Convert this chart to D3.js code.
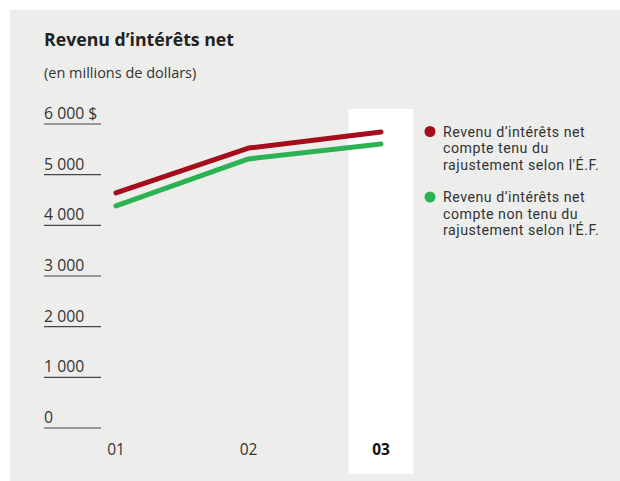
<!DOCTYPE html>
<html><head><meta charset="utf-8">
<script src="https://cdn.jsdelivr.net/npm/d3@7"></script>
<style>html,body{margin:0;padding:0;background:#fff;}svg{display:block;}</style>
</head><body>
<svg id="c" width="620" height="481"></svg>
<script>
const categories = ["01", "02", "03"];
const seriesAdjusted = [4640, 5525, 5840];
const seriesUnadjusted = [4385, 5310, 5605];
const yTicks = [0, 1000, 2000, 3000, 4000, 5000, 6000];
const yTickLabels = ["0", "1 000", "2 000", "3 000", "4 000", "5 000", "6 000 $"];
const legendLabels = [
  ["Revenu d\u2019intérêts net", "compte tenu du", "rajustement selon l'É.F."],
  ["Revenu d\u2019intérêts net", "compte non tenu du", "rajustement selon l'É.F."]
];
const colors = ["#a50d1c", "#2bb353"];
const font = "'Open Sans', 'Noto Sans', sans-serif";
const legendFont = "Roboto, 'Open Sans', sans-serif";

const svg = d3.select("#c");
svg.append("rect").attr("x",10).attr("y",10).attr("width",610).attr("height",471).attr("fill","#edeeec");

const x = d3.scalePoint().domain(categories).range([116, 381]);
const y = d3.scaleLinear().domain([0, 6000]).range([428, 124]);

// highlight column for last category
svg.append("rect").attr("x", x("03") - 32.5).attr("y", 109).attr("width", 65).attr("height", 365).attr("fill", "#fff");

svg.append("text").attr("x",44).attr("y",46).attr("font-family",font).attr("font-size",17.7).attr("font-weight","bold").attr("fill","#222").text("Revenu d\u2019intérêts net");
svg.append("text").attr("x",44).attr("y",78).attr("font-family",font).attr("font-size",14.5).attr("fill","#333").text("(en millions de dollars)");

// y ticks: lines with labels above
const g = svg.append("g");
yTicks.forEach((t,i) => {
  g.append("line").attr("x1",44).attr("x2",101).attr("y1",y(t)).attr("y2",y(t)).attr("stroke","#444").attr("stroke-width",1.2);
  g.append("text").attr("x",44).attr("y",y(t)-5).attr("font-family",font).attr("font-size",15.8).attr("fill","#333").text(yTickLabels[i]);
});

// x labels
categories.forEach((c,i) => {
  svg.append("text").attr("x",x(c)).attr("y",455).attr("text-anchor","middle").attr("font-family",font).attr("font-size",15.5)
    .attr("font-weight", i===categories.length-1 ? "bold" : "normal").attr("fill", i===categories.length-1 ? "#111" : "#333").text(c);
});

const line = d3.line().x((d,i)=>x(categories[i])).y(d=>y(d));
[seriesUnadjusted, seriesAdjusted].forEach((s,k) => {
  svg.append("path").attr("d", line(s)).attr("fill","none").attr("stroke", colors[1-k]).attr("stroke-width",5)
    .attr("stroke-linecap","round").attr("stroke-linejoin","round");
});

// legend
legendLabels.forEach((lines, k) => {
  const top = 136.5 + k*65.5;
  svg.append("circle").attr("cx",430).attr("cy",top-5).attr("r",5.5).attr("fill",colors[k]);
  const t = svg.append("text").attr("x",443).attr("y",top).attr("font-family",legendFont).attr("font-size",14.2)
    .attr("letter-spacing",0.5).attr("fill","#333");
  lines.forEach((s,j) => {
    t.append("tspan").attr("x",443).attr("dy", j===0 ? 0 : 16.7).text(s);
  });
});
</script>
</body></html>
